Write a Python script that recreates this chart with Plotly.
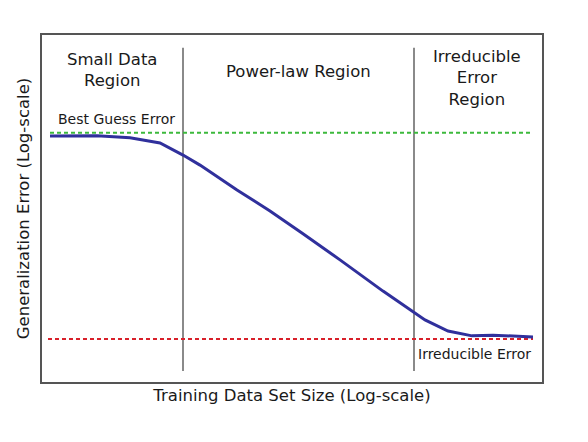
import plotly.graph_objects as go

# Generalization error curve (log-scale units, arbitrary)
train_size = [1.6, 11.0, 17.6, 23.6, 28.2, 31.6, 39.0, 45.6, 52.2, 59.6, 68.2, 74.4, 76.6, 81.2, 86.0, 90.2, 98.2]
gen_error = [70.9, 71.0, 70.4, 68.9, 65.4, 62.5, 55.3, 49.3, 42.7, 35.2, 26.2, 20.2, 17.9, 14.7, 13.3, 13.5, 13.0]

best_guess_x = [1.6, 97.8]
best_guess_y = [71.8, 71.8]
irreducible_x = [1.2, 98.2]
irreducible_y = [12.4, 12.4]

region_bounds = [28.2, 74.4]
region_line_y = [3.2, 96.3]

FONT = "DejaVu Sans"

fig = go.Figure()
for xb in region_bounds:
    fig.add_trace(go.Scatter(x=[xb, xb], y=region_line_y, mode="lines",
                             line=dict(color="#8a8a8a", width=2), showlegend=False, hoverinfo="skip"))
fig.add_trace(go.Scatter(x=best_guess_x, y=best_guess_y, mode="lines",
                         line=dict(color="#3cb93c", width=2, dash="4px,3px"), showlegend=False))
fig.add_trace(go.Scatter(x=irreducible_x, y=irreducible_y, mode="lines",
                         line=dict(color="#d8202a", width=2, dash="4px,3px"), showlegend=False))
fig.add_trace(go.Scatter(x=train_size, y=gen_error, mode="lines",
                         line=dict(color="#30309c", width=3), showlegend=False))

ann = [
    dict(x=14, y=90, text="Small Data<br>Region", size=16.5, xanchor="center"),
    dict(x=51.2, y=89.6, text="Power-law Region", size=16.5, xanchor="center"),
    dict(x=87, y=87.6, text="Irreducible<br>Error<br>Region", size=16.5, xanchor="center"),
    dict(x=2.8, y=75.8, text="Best Guess Error", size=14, xanchor="left"),
    dict(x=98.2, y=8.1, text="Irreducible Error", size=14, xanchor="right"),
]
for a in ann:
    fig.add_annotation(x=a["x"], y=a["y"], text=a["text"], showarrow=False,
                       xanchor=a["xanchor"], yanchor="middle",
                       font=dict(family=FONT, size=a["size"], color="#1a1a1a"))

fig.update_layout(
    width=572, height=426,
    margin=dict(l=34, r=38, t=27, b=52),
    plot_bgcolor="white", paper_bgcolor="white",
    font=dict(family=FONT, color="#1a1a1a"),
    xaxis=dict(range=[0, 100], showgrid=False, zeroline=False, showticklabels=False, ticks="",
               showline=True, mirror=True, linecolor="#555555", linewidth=2,
               title=dict(text="Training Data Set Size (Log-scale)", font=dict(size=16.5, family=FONT), standoff=6)),
    yaxis=dict(range=[0, 100], showgrid=False, zeroline=False, showticklabels=False, ticks="",
               showline=True, mirror=True, linecolor="#555555", linewidth=2,
               title=dict(text="Generalization Error (Log-scale)", font=dict(size=16.5, family=FONT), standoff=6)),
)

fig.write_html("out.html")
